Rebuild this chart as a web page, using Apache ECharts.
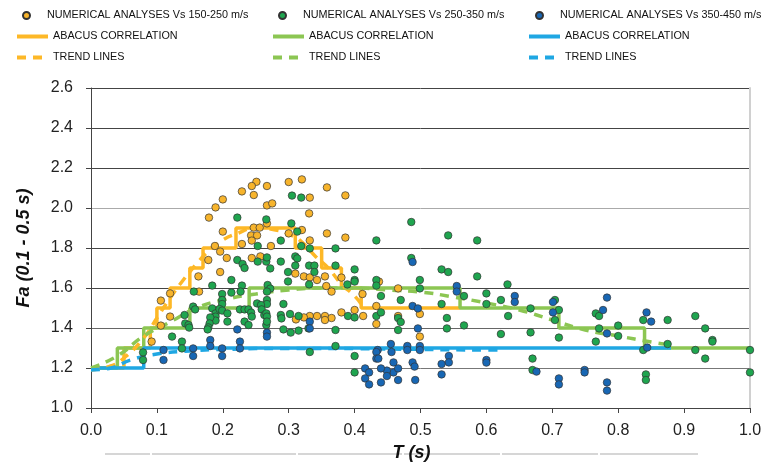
<!DOCTYPE html>
<html><head><meta charset="utf-8">
<script src="https://cdn.jsdelivr.net/npm/echarts@6/dist/echarts.min.js"></script>
<style>html,body{margin:0;padding:0;background:#fff}#c{width:763px;height:464px}</style>
</head><body><div id="c"></div>
<script>
// ---- scatter data: [T (s), Fa] ----
const vs150_250 = [
[0.251,2.131],[0.244,2.110],[0.267,2.110],[0.300,2.130],[0.320,2.143],[0.229,2.083],[0.247,2.065],[0.200,2.043],[0.189,2.003],[0.267,2.013],[0.275,2.023],[0.179,1.952],[0.331,1.973],[0.200,1.882],[0.267,1.923],[0.247,1.902],[0.256,1.902],[0.243,1.863],[0.252,1.863],[0.244,1.837],[0.320,1.890],[0.300,1.873],[0.229,1.820],[0.273,1.810],[0.188,1.810],[0.196,1.782],[0.206,1.750],[0.178,1.740],[0.244,1.750],[0.257,1.758],[0.196,1.680],[0.163,1.658],[0.310,1.672],[0.323,1.658],
[0.358,2.103],[0.386,2.063],[0.332,2.052],[0.358,1.873],[0.386,1.852],[0.332,1.838],
[0.332,1.653],[0.343,1.640],[0.355,1.658],[0.380,1.652],[0.437,1.632],[0.466,1.598],[0.357,1.610],
[0.365,1.582],[0.412,1.570],[0.433,1.510],[0.499,1.470],[0.332,1.460],[0.343,1.460],[0.355,1.460],[0.365,1.450],[0.355,1.440],[0.380,1.478],[0.400,1.490],[0.413,1.460],[0.433,1.420],[0.466,1.460],[0.499,1.357],
[0.120,1.573],[0.106,1.537],[0.120,1.457],[0.106,1.412],[0.092,1.332],[0.164,1.582],[0.311,1.443],[0.323,1.453]
];
const vs250_350 = [
[0.305,2.062],[0.319,2.052],[0.222,1.952],[0.266,1.943],[0.304,1.923],[0.313,1.882],[0.288,1.837],[0.253,1.810],[0.319,1.810],[0.222,1.740],[0.230,1.720],[0.233,1.700],[0.253,1.732],[0.266,1.732],[0.267,1.753],[0.288,1.732],[0.310,1.758],[0.313,1.748],[0.272,1.698],[0.310,1.712],[0.299,1.680],[0.331,1.712],[0.213,1.640],[0.299,1.633],[0.184,1.612],[0.229,1.612],[0.268,1.615],[0.272,1.597],[0.331,1.618],
[0.156,1.582],[0.199,1.570],[0.213,1.577],[0.227,1.582],[0.267,1.582],[0.252,1.523],[0.267,1.540],[0.267,1.520],[0.292,1.520],[0.199,1.540],[0.199,1.520],[0.155,1.507],[0.158,1.493],[0.184,1.498],[0.189,1.473],[0.189,1.457],[0.189,1.437],[0.195,1.495],[0.199,1.487],[0.207,1.473],[0.181,1.453],[0.142,1.465],[0.143,1.423],[0.148,1.415],[0.149,1.402],[0.180,1.423],[0.178,1.403],[0.177,1.393],[0.207,1.432],[0.226,1.493],[0.233,1.493],[0.239,1.493],[0.243,1.477],[0.244,1.457],[0.233,1.432],[0.239,1.415],[0.258,1.515],[0.259,1.493],[0.263,1.465],[0.266,1.473],[0.267,1.457],[0.266,1.415],[0.267,1.432],[0.288,1.465],[0.289,1.448],[0.302,1.470],[0.315,1.460],[0.292,1.393],[0.303,1.377],[0.315,1.387],[0.330,1.398],[0.123,1.357],[0.138,1.332],[0.138,1.298],[0.079,1.278],[0.079,1.240],
[0.486,1.930],[0.542,1.863],[0.586,1.838],[0.433,1.838],[0.371,1.798],[0.332,1.798],[0.486,1.750],[0.339,1.712],[0.371,1.712],[0.339,1.680],[0.400,1.693],[0.532,1.693],[0.542,1.680],[0.586,1.658],[0.400,1.640],[0.400,1.632],[0.433,1.640],[0.433,1.612],[0.499,1.640],[0.389,1.618],[0.499,1.598],[0.632,1.618],[0.600,1.573],[0.440,1.560],[0.470,1.540],[0.532,1.520],[0.566,1.560],[0.600,1.520],[0.622,1.540],[0.390,1.460],[0.400,1.453],[0.433,1.460],[0.440,1.478],[0.466,1.450],[0.470,1.430],[0.540,1.450],[0.633,1.460],[0.371,1.390],[0.466,1.390],[0.540,1.398],[0.566,1.413],[0.622,1.370],[0.371,1.310],[0.332,1.280],[0.400,1.260],[0.400,1.178],
[0.667,1.498],[0.667,1.378],[0.670,1.247],[0.670,1.190],[0.704,1.540],[0.704,1.440],[0.710,1.490],[0.710,1.352],[0.766,1.473],[0.771,1.460],[0.771,1.398],[0.766,1.332],[0.800,1.412],[0.800,1.360],[0.838,1.440],[0.838,1.290],[0.842,1.168],[0.842,1.140],[0.875,1.440],[0.875,1.320],[0.917,1.460],[0.917,1.290],[0.932,1.398],[0.932,1.247],[0.943,1.340],[0.943,1.332],[1.000,1.290],[1.000,1.178]
];
const vs350_450 = [
[0.222,1.393],[0.267,1.377],[0.267,1.357],[0.181,1.340],[0.181,1.310],[0.226,1.332],[0.226,1.298],[0.110,1.290],[0.110,1.240],[0.155,1.298],[0.155,1.260],[0.199,1.298],[0.199,1.260],
[0.332,1.432],[0.332,1.398],[0.488,1.510],[0.496,1.498],[0.496,1.398],[0.555,1.610],[0.555,1.582],[0.643,1.560],[0.643,1.530],[0.488,1.730],
[0.455,1.320],[0.456,1.280],[0.480,1.310],[0.480,1.290],[0.499,1.310],[0.499,1.290],[0.435,1.290],[0.433,1.280],[0.433,1.247],[0.436,1.247],[0.543,1.260],[0.543,1.228],[0.532,1.220],[0.532,1.168],[0.600,1.240],[0.600,1.227],[0.459,1.228],[0.459,1.178],[0.466,1.198],[0.449,1.187],[0.449,1.160],[0.440,1.198],[0.416,1.198],[0.422,1.178],[0.416,1.148],[0.422,1.118],[0.440,1.128],[0.466,1.140],[0.488,1.228],[0.491,1.207],[0.492,1.140],
[0.701,1.530],[0.701,1.478],[0.676,1.182],[0.710,1.148],[0.710,1.118],[0.749,1.190],[0.749,1.178],[0.783,1.552],[0.777,1.490],[0.783,1.373],[0.783,1.128],[0.783,1.087],[0.843,1.478],[0.850,1.432],[0.844,1.302]
];
// ---- abacus correlation steps: [T, Fa] (step at end) ----
const abacus150_250 = [[0,1.2],[0.05,1.3],[0.09,1.4],[0.10,1.5],[0.12,1.6],[0.15,1.7],[0.17,1.8],[0.22,1.9],[0.31,1.8],[0.35,1.7],[0.38,1.6],[0.41,1.5],[0.56,1.5]];
const abacus250_350 = [[0,1.2],[0.04,1.3],[0.08,1.4],[0.15,1.5],[0.24,1.6],[0.56,1.5],[0.71,1.4],[0.84,1.3],[1.0,1.3]];
const abacus350_450 = [[0,1.2],[0.08,1.3],[0.88,1.3]];
// ---- trend lines ----
const trend150_250 = [[0,1.19],[0.03,1.21],[0.05,1.25],[0.08,1.35],[0.10,1.45],[0.12,1.55],[0.14,1.64],[0.16,1.72],[0.18,1.79],[0.20,1.84],[0.22,1.87],[0.25,1.9],[0.28,1.89],[0.30,1.87],[0.32,1.83],[0.34,1.76],[0.36,1.70],[0.38,1.62],[0.40,1.56],[0.41,1.52]];
const trend250_350 = [[0,1.2],[0.04,1.26],[0.08,1.36],[0.12,1.43],[0.16,1.50],[0.20,1.54],[0.25,1.57],[0.30,1.59],[0.35,1.60],[0.40,1.60],[0.45,1.59],[0.50,1.58],[0.55,1.555],[0.60,1.525],[0.65,1.49],[0.70,1.44],[0.75,1.39],[0.80,1.36],[0.85,1.33],[0.87,1.32]];
const trend350_450 = [[0,1.19],[0.03,1.20],[0.06,1.24],[0.10,1.27],[0.15,1.285],[0.20,1.293],[0.30,1.298],[0.40,1.297],[0.50,1.293],[0.60,1.29],[0.62,1.29]];

const C_OR = '#F7B42C', C_GR = '#1FA54F', C_BL = '#1867B4';
const L_OR = '#FDB827', L_GR = '#8CC653', L_BL = '#1FA7E3';
const NAME_S = ['NUMERICAL ANALYSES Vs 150-250 m/s','NUMERICAL ANALYSES Vs 250-350 m/s','NUMERICAL ANALYSES Vs 350-450 m/s'];
const NAME_A = ['ABACUS CORRELATION','ABACUS CORRELATION ','ABACUS CORRELATION  '];
const NAME_T = ['TREND LINES','TREND LINES ','TREND LINES  '];

const font = 'Liberation Sans, Arial, sans-serif';
function lgScatter(name, left, top){
  return {data:[name], left:left, top:top, padding:0, itemWidth:31, itemHeight:7, selectedMode:false,
    textStyle:{fontSize:10.8, fontFamily:font, color:'#111'}};
}
function lgLine(name, left, top){
  return {data:[name], left:left, top:top, padding:0, itemWidth:31, itemHeight:2, selectedMode:false,
    itemStyle:{color:'rgba(0,0,0,0)', borderWidth:0, opacity:0},
    lineStyle:{width:4},
    textStyle:{fontSize:10.8, fontFamily:font, color:'#111'}};
}
const colsScatter = [22, 278, 535];
const colsLine = [15, 271, 527];
const legends = [];
for (let i=0;i<3;i++){
  legends.push(lgScatter(NAME_S[i], colsScatter[i], 10));
  legends.push(lgLine(NAME_A[i], colsLine[i], 31));
  legends.push(lgLine(NAME_T[i], colsLine[i], 52));
}
function stepLine(name, data, color){
  return {name:name, type:'line', step:'end', data:data, symbol:'none', lineStyle:{color:color, width:3.5}, itemStyle:{color:color}, z:2, silent:true};
}
function trendLine(name, data, color){
  return {name:name, type:'line', smooth:true, data:data, symbol:'none', lineStyle:{color:color, width:3.5, type:[9,7]}, itemStyle:{color:color}, z:3, silent:true};
}
function scat(name, data, color){
  return {name:name, type:'scatter', data:data, symbol:'circle', symbolSize:7.5, itemStyle:{color:color, borderColor:'#333', borderWidth:0.7, opacity:1}, z:5, silent:true};
}
const bottomSegs = [[105,150],[152,296],[298,402],[404,500],[502,598],[600,698]];

const chart = echarts.init(document.getElementById('c'), null, {renderer:'canvas'});
chart.setOption({
  animation:false,
  backgroundColor:'#fff',
  legend: legends,
  grid:{left:91, right:13, top:88, bottom:56, outerBoundsMode:'none', containLabel:false},
  xAxis:{type:'value', min:0, max:1, interval:0.1,
    name:'T (s)', nameLocation:'middle', nameGap:29,
    nameTextStyle:{fontSize:18, fontWeight:'bold', fontStyle:'italic', color:'#111', fontFamily:font, padding:[0,18,0,0]},
    axisLine:{show:true, onZero:false, lineStyle:{color:'#444', width:1}},
    axisTick:{show:true, length:5, lineStyle:{color:'#444'}},
    axisLabel:{fontSize:16, color:'#222', fontFamily:font, margin:15, formatter:v=>v.toFixed(1)},
    splitLine:{show:false}},
  yAxis:[{type:'value', min:1, max:2.6, interval:0.2,
    name:'Fa (0.1 - 0.5 s)', nameLocation:'middle', nameGap:58,
    nameTextStyle:{fontSize:18, fontWeight:'bold', fontStyle:'italic', color:'#111', fontFamily:font},
    axisLine:{show:true, lineStyle:{color:'#444', width:1}},
    axisTick:{show:true, length:5, lineStyle:{color:'#444'}},
    axisLabel:{fontSize:16, color:'#222', fontFamily:font, margin:18, formatter:v=>v.toFixed(1)},
    splitLine:{show:true, lineStyle:{color:['#444','#777','#666','#444','#444','#aaa','#444','#444','#444'], width:1}}},
    {type:'value', position:'right', min:1, max:2.6, interval:0.2,
    axisLine:{show:true, lineStyle:{color:'#d0d0d0', width:2}}, axisTick:{show:false}, axisLabel:{show:false}, splitLine:{show:false}}],
  graphic: bottomSegs.map(s=>({type:'line', shape:{x1:s[0], y1:454, x2:s[1], y2:454}, style:{stroke:'#c8c8c8', lineWidth:1.5}, silent:true})),
  series:[
    stepLine(NAME_A[0], abacus150_250, L_OR),
    stepLine(NAME_A[1], abacus250_350, L_GR),
    stepLine(NAME_A[2], abacus350_450, L_BL),
    trendLine(NAME_T[0], trend150_250, L_OR),
    trendLine(NAME_T[1], trend250_350, L_GR),
    trendLine(NAME_T[2], trend350_450, L_BL),
    scat(NAME_S[0], vs150_250, C_OR),
    scat(NAME_S[1], vs250_350, C_GR),
    scat(NAME_S[2], vs350_450, C_BL)
  ]
});
</script></body></html>
